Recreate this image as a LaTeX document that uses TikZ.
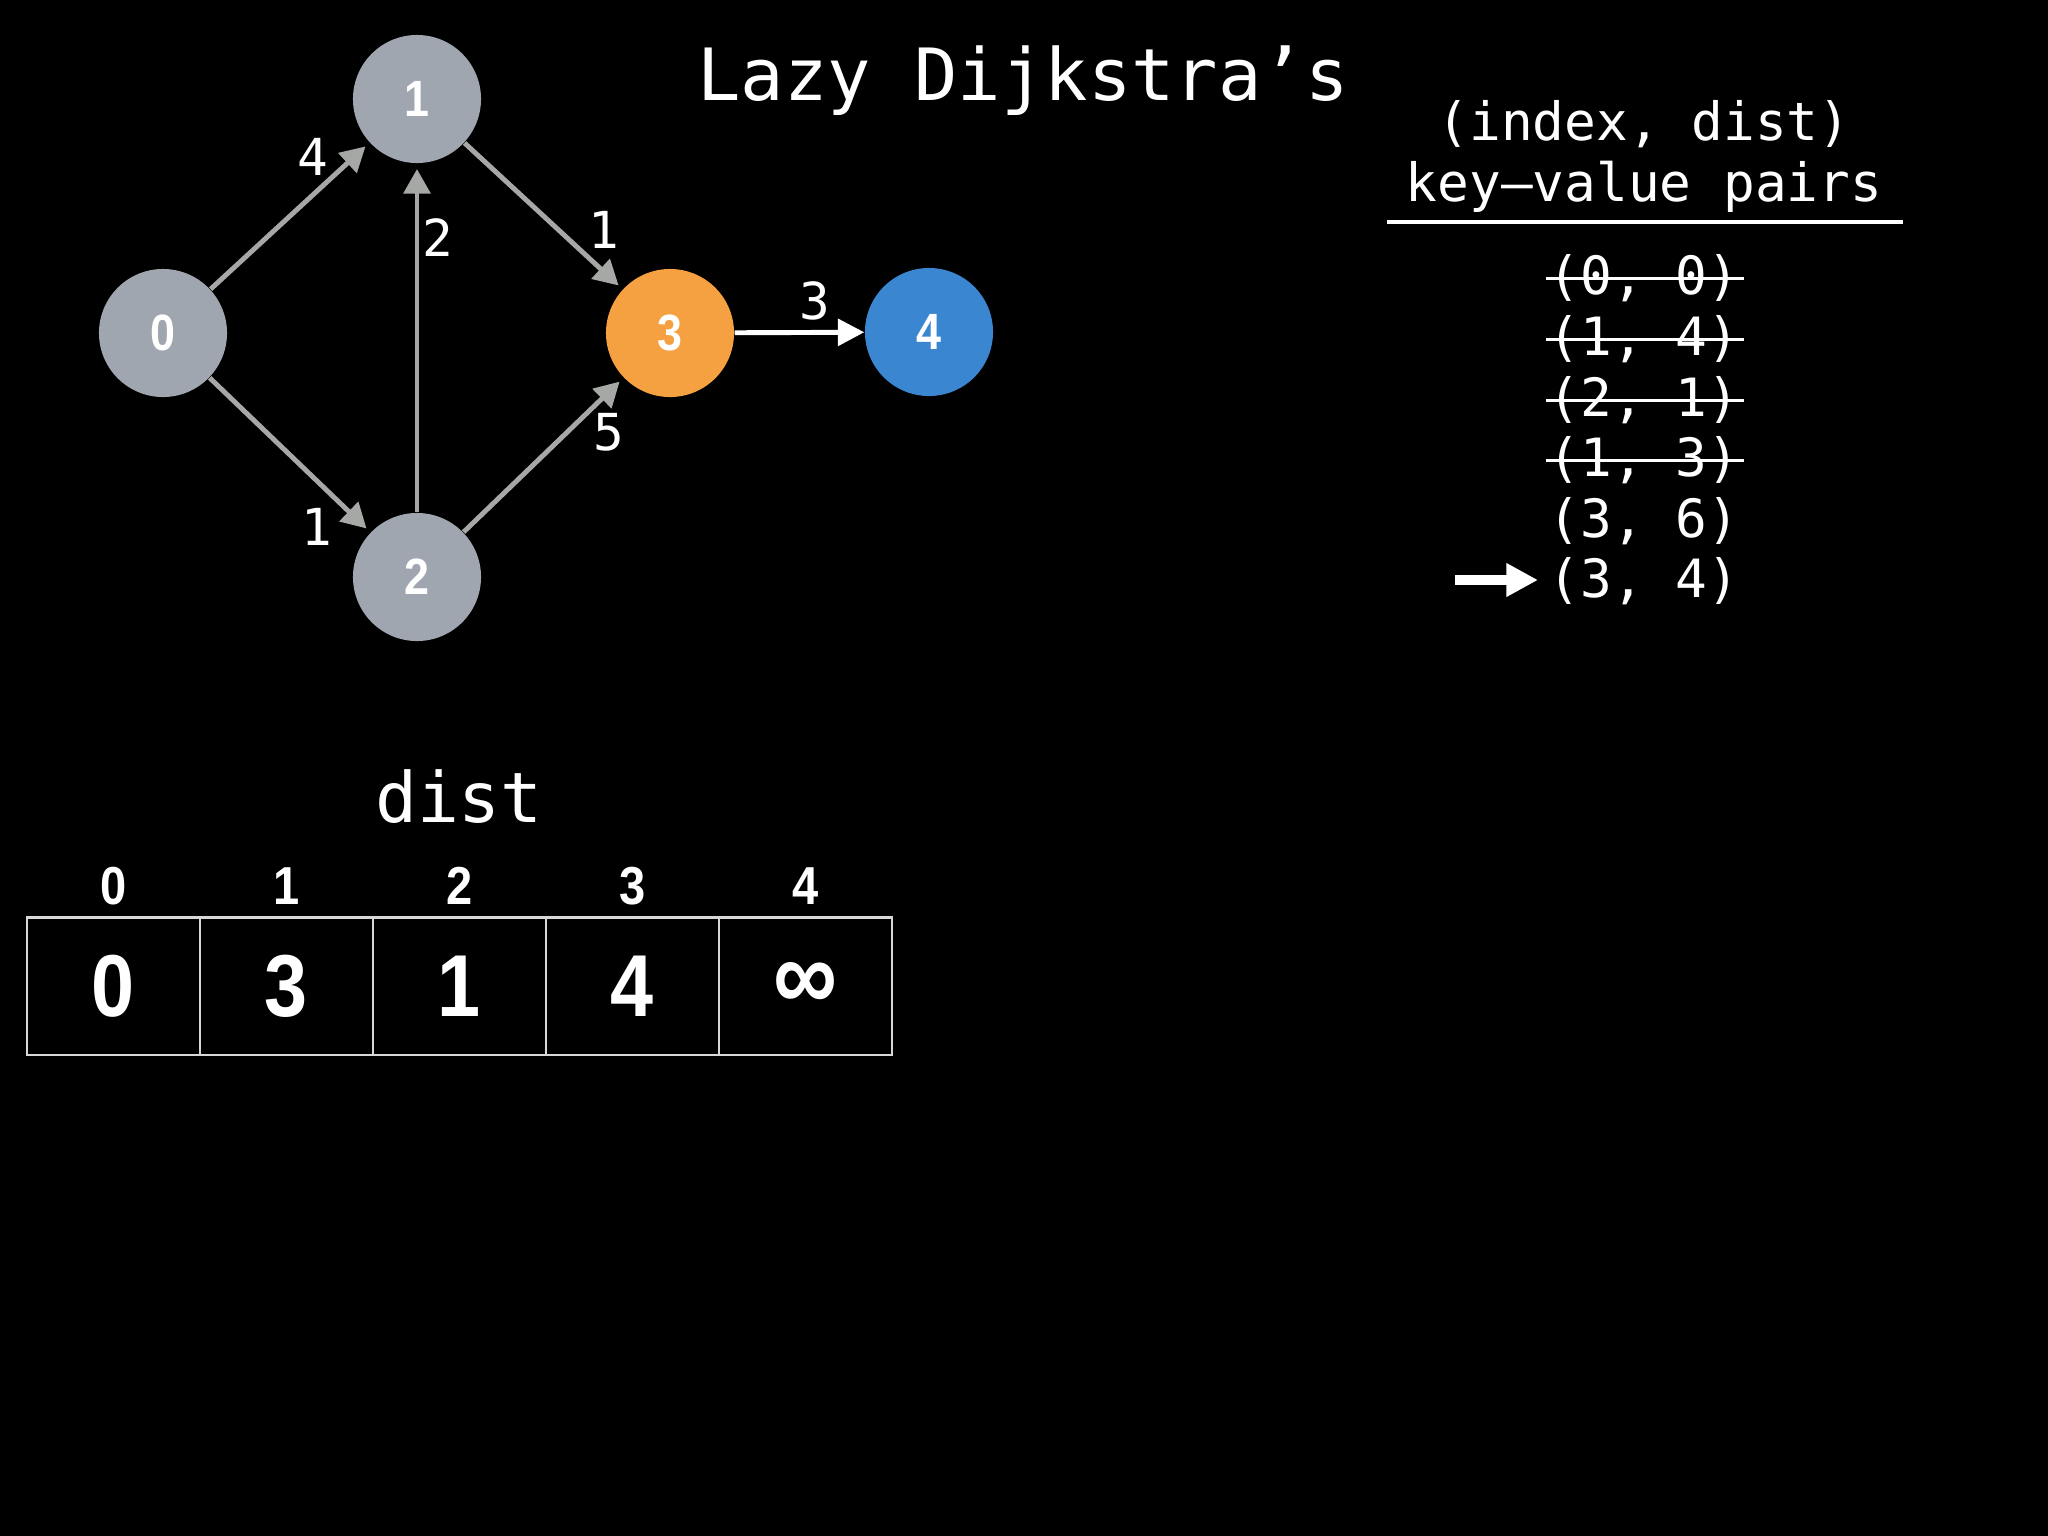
\documentclass[tikz,border=0pt]{standalone}
\usepackage{fontspec}
\usetikzlibrary{arrows.meta}
\newfontfamily\monof{DejaVu Sans Mono}
\newfontfamily\helf{Liberation Sans}
\newfontfamily\helcf[FakeStretch=0.88]{Liberation Sans}
\definecolor{nodegray}{HTML}{A0A6B0}
\definecolor{edgegray}{HTML}{A6A8A6}
\definecolor{nodeorange}{HTML}{F5A142}
\definecolor{nodeblue}{HTML}{3B86D1}
\definecolor{cellline}{HTML}{D8D8D8}
\begin{document}
\begin{tikzpicture}[x=0.01cm,y=-0.01cm,
  vtx/.style={circle,minimum size=1.28cm,inner sep=0pt,text=white,font=\helcf\bfseries\fontsize{14.5}{15}\selectfont},
  gedge/.style={draw=edgegray,line width=1.4pt,-{Triangle[length=7pt,width=7.5pt]},shorten >=1.5pt},
  wedge/.style={draw=white,line width=1.4pt,-{Triangle[length=7.5pt,width=7.5pt]}},
  wlabel/.style={text=white,font=\monof\fontsize{14.5}{15}\selectfont,inner sep=0pt},
  pair/.style={text=white,font=\monof\fontsize{15}{16}\selectfont,inner sep=0pt,anchor=base},
  strike/.style={draw=white,line width=0.8pt},
  cell/.style={draw=cellline,line width=0.6pt,minimum width=1.73cm,minimum height=1.37cm,inner sep=0pt,text=white,font=\helcf\bfseries\fontsize{25}{26}\selectfont},
  idx/.style={text=white,font=\helcf\bfseries\fontsize{15.2}{16}\selectfont,inner sep=0pt,anchor=base},
  bigtitle/.style={text=white,font=\monof\fontsize{20.5}{22}\selectfont,inner sep=0pt,anchor=base}
]
\fill[black] (0,0) rectangle (2048,1536);
\useasboundingbox (0,0) rectangle (2048,1536);

% graph nodes
\node[vtx,fill=nodegray] (n0) at (163,333) {0};
\node[vtx,fill=nodegray] (n1) at (417,99) {1};
\node[vtx,fill=nodegray] (n2) at (417,577) {2};
\node[vtx,fill=nodeorange] (n3) at (670,333) {3};
\node[vtx,fill=nodeblue] (n4) at (929,332) {4};

% edges
\draw[gedge] (n0) -- (n1);
\draw[gedge] (n0) -- (n2);
\draw[gedge] (n2) -- (n1);
\draw[gedge] (n1) -- (n3);
\draw[gedge] (n2) -- (n3);
\draw[wedge] (n3) -- (n4);

% edge weights
\node[wlabel] (w01) at (313,157) {4};
\node[wlabel] (w21) at (438,238) {2};
\node[wlabel] (w13) at (604,230) {1};
\node[wlabel] (w34) at (815,301) {3};
\node[wlabel] (w23) at (609,432) {5};
\node[wlabel] (w02) at (317,527) {1};

% title
\node[bigtitle] (title) at (1023,100) {Lazy Dijkstra’s};

% priority queue header
\node[pair] (h1) at (1644,140) {(index, dist)};
\node[pair] (h2) at (1644,201) {key–value pairs};
\coordinate (ul) at (1387,222);
\coordinate (ur) at (1903,222);
\draw[white,line width=1.4pt] (ul) -- (ur);

% pairs
\node[pair] (p0) at (1644,294) {(0, 0)};
\node[pair] (p1) at (1644,355) {(1, 4)};
\node[pair] (p2) at (1644,416) {(2, 1)};
\node[pair] (p3) at (1644,476) {(1, 3)};
\node[pair] (p4) at (1644,537) {(3, 6)};
\node[pair] (p5) at (1644,597) {(3, 4)};
\foreach \p in {p0,p1,p2,p3}{
  \draw[strike] ([xshift=-0.6pt,yshift=4.4pt]\p.base west) -- ([xshift=1.2pt,yshift=4.4pt]\p.base east);
}
\coordinate (arrs) at (1455,580);
\coordinate (arre) at (1538,580);
\draw[white,line width=2.8pt,-{Triangle[length=9pt,width=9pt]}] (arrs) -- (arre);

% dist array
\node[bigtitle,font=\monof\fontsize{19.8}{21}\selectfont] (distt) at (459,822) {dist};
\node[idx] (i0) at (113.5,904) {0};
\node[idx] (i1) at (286.5,904) {1};
\node[idx] (i2) at (459.5,904) {2};
\node[idx] (i3) at (632.5,904) {3};
\node[idx] (i4) at (805.5,904) {4};
\node[cell] (c0) at (113.5,986) {0};
\node[cell] (c1) at (286.5,986) {3};
\node[cell] (c2) at (459.5,986) {1};
\node[cell] (c3) at (632.5,986) {4};
\node[cell] (c4) at (805.5,986) {\raisebox{-2pt}{\fontsize{29}{30}\selectfont ∞}};
\end{tikzpicture}
\end{document}
